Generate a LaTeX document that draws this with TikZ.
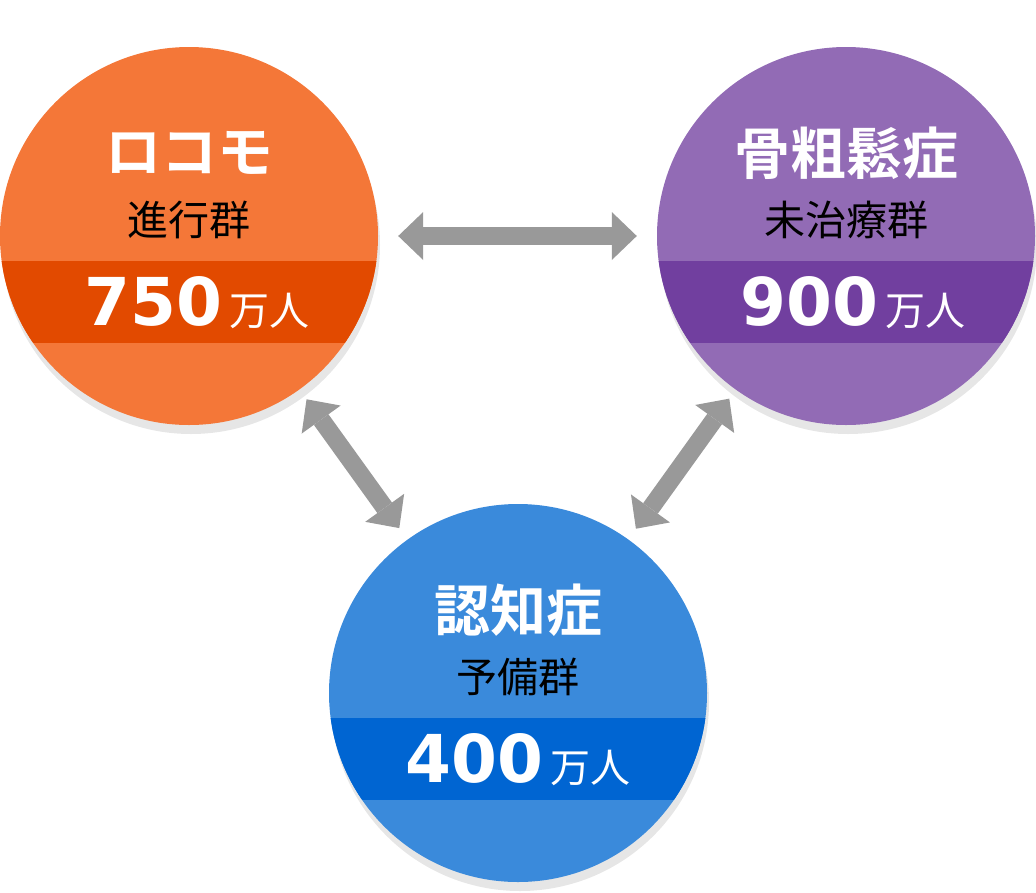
\documentclass[tikz,border=0pt]{standalone}
\usepackage{fontspec}
\usepackage{tikz}
\usetikzlibrary{arrows.meta}
\newfontfamily\jpfont{Noto Sans CJK JP}[BoldFont={Noto Sans CJK JP Bold}]
\newfontfamily\numfont{DejaVu Sans}
\definecolor{locobg}{HTML}{F47738}
\definecolor{locobar}{HTML}{E24A00}
\definecolor{osteobg}{HTML}{926BB5}
\definecolor{osteobar}{HTML}{713F9F}
\definecolor{demenbg}{HTML}{3A8ADB}
\definecolor{demenbar}{HTML}{0065D2}
\definecolor{rim}{HTML}{E6E6E6}
\definecolor{arrowgray}{HTML}{999999}
\tikzset{
  bubble/.style={circle, fill=#1, minimum size=378pt, inner sep=0pt},
  title/.style={font=\jpfont\bfseries\fontsize{56}{56}\selectfont, text=white, inner sep=0pt},
  subtitle/.style={font=\jpfont\fontsize{41}{41}\selectfont, text=black, inner sep=0pt},
  count/.style={font=\jpfont\fontsize{40}{40}\selectfont, text=white, inner sep=0pt, anchor=base},
  link/.style={
    draw=arrowgray,
    line width=18pt,
    {Triangle[length=25pt,width=48pt,line width=0pt]}-{Triangle[length=25pt,width=48pt,line width=0pt]},
  },
}

\begin{document}
\begin{tikzpicture}[x=1pt,y=-1pt]
  \useasboundingbox (0,0) rectangle (1036,892);

  % discs with rim and band
  \foreach \id/\cx/\cy/\dx/\title/\sub/\num in {
      loco/189/236/8/ロコモ/進行群/750,
      osteo/846/236/7/骨粗鬆症/未治療群/900,
      demen/518/693/0/認知症/予備群/400} {
    \fill[rim] (\cx+2,\cy+9) circle (189pt);
    \node[bubble=\id bg] (\id) at (\cx,\cy) {};
    \begin{scope}
      \clip (\id.center) circle (189pt);
      \fill[\id bar] ([shift={(-200pt,-25pt)}]\id.center) rectangle ([shift={(200pt,-107pt)}]\id.center);
    \end{scope}
    \node[title] (\id-title) at (\cx,\cy-83) {\title};
    \node[subtitle] (\id-sub) at (\cx,\cy-16) {\sub};
    \node[count] (\id-count) at (\cx+\dx,\cy+89)
      {{\numfont\bfseries\fontsize{66}{66}\selectfont\num}\hspace{7pt}万人};
  }

  % links
  \draw[link, shorten <=20pt, shorten >=20pt] (loco) -- (osteo);
  \draw[link, shorten <=12pt, shorten >=14pt] (loco) -- (demen);
  \draw[link, shorten <=11pt, shorten >=13pt] (osteo) -- (demen);
\end{tikzpicture}
\end{document}
